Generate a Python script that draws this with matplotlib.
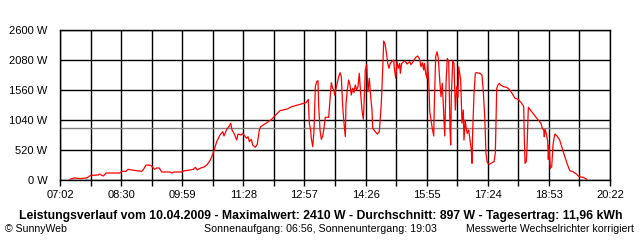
import matplotlib
matplotlib.use("Agg")
import matplotlib.pyplot as plt
from matplotlib.ticker import FixedLocator, FuncFormatter

# Zeit in Minuten seit Mitternacht, Leistung in W
t_min = [436.5, 442.4, 451.1, 460.8, 466.7, 477.7, 479.2, 485.0, 488.9, 509.3,
         511.7, 518.0, 520.9, 529.6, 540.8, 543.2, 547.1, 553.9, 559.7, 562.7,
         566.4, 569.9, 582.0, 584.9, 587.8, 599.0, 601.3, 611.1, 615.9, 618.8,
         621.7, 624.6, 628.1, 631.5, 635.4, 640.2, 642.7, 646.0, 649.9, 654.7,
         658.7, 660.5, 664.5, 668.3, 670.3, 672.2, 675.1, 677.0, 679.0, 680.9,
         685.7, 687.7, 690.6, 693.6, 695.5, 697.4, 700.3, 702.3, 706.1, 709.0,
         711.9, 713.9, 722.7, 729.9, 738.1, 742.0, 752.6, 759.0, 771.1, 779.8,
         783.2, 784.6, 786.6, 787.5, 789.6, 791.5, 793.4, 795.4, 797.3, 798.3,
         800.2, 802.1, 804.1, 806.0, 807.9, 812.8, 814.7, 816.6, 818.6, 820.5,
         821.5, 823.5, 827.4, 829.3, 831.2, 833.2, 835.1, 837.0, 838.0, 839.9,
         841.9, 843.8, 845.7, 847.7, 849.6, 851.5, 853.5, 855.4, 857.3, 859.3,
         861.2, 863.2, 865.2, 866.0, 868.1, 870.0, 871.9, 873.9, 875.8, 876.8,
         880.6, 883.5, 886.4, 888.9, 889.9, 891.8, 892.8, 894.7, 896.6, 898.7,
         900.5, 902.4, 904.5, 907.4, 908.2, 910.3, 912.2, 914.1, 916.1, 917.0,
         919.0, 923.8, 926.7, 930.7, 932.5, 936.5, 939.4, 942.3, 945.2, 947.1,
         949.0, 951.0, 951.9, 953.9, 955.8, 956.8, 958.7, 959.8, 961.6, 963.5,
         965.6, 966.4, 968.4, 970.4, 972.3, 974.3, 976.2, 978.1, 980.1, 981.6,
         983.5, 985.3, 987.4, 989.3, 990.3, 991.2, 993.2, 995.1, 997.0, 999.1,
         1000.9, 1001.9, 1003.8, 1004.8, 1006.7, 1008.6, 1009.6, 1011.5, 1012.5, 1014.4,
         1016.5, 1018.4, 1020.3, 1021.3, 1022.3, 1024.2, 1026.1, 1027.1, 1032.9, 1035.8,
         1037.7, 1039.8, 1041.6, 1043.5, 1046.5, 1050.4, 1053.3, 1055.2, 1056.2, 1057.2,
         1059.1, 1061.0, 1063.0, 1066.8, 1071.7, 1075.5, 1078.0, 1080.9, 1083.8, 1088.6,
         1093.6, 1096.5, 1097.3, 1098.4, 1100.2, 1101.3, 1103.2, 1108.1, 1112.9, 1117.7,
         1121.6, 1123.5, 1125.6, 1126.4, 1127.5, 1129.3, 1131.4, 1132.3, 1133.3, 1135.2,
         1137.2, 1139.1, 1141.0, 1142.0, 1144.9, 1148.8, 1151.7, 1154.7, 1159.5, 1163.4,
         1168.2, 1173.1, 1177.0, 1183.2, 1188.2]
leistung = [12, 35, 25, 35, 81, 87, 104, 69, 121, 121,
            150, 150, 185, 168, 150, 179, 260, 254, 185, 208,
            208, 139, 139, 121, 139, 139, 156, 173, 185, 220,
            173, 196, 214, 225, 260, 335, 404, 508, 664, 780,
            837, 763, 878, 936, 983, 867, 809, 751, 693, 797,
            780, 809, 763, 723, 750, 664, 705, 607, 567, 624,
            867, 924, 993, 1052, 1156, 1202, 1231, 1271, 1312, 1340,
            1398, 983, 867, 723, 578, 867, 1618, 1705, 1722, 1271,
            867, 705, 763, 896, 1087, 1087, 1387, 1687, 1589, 1560,
            1473, 1589, 1791, 1860, 1791, 1271, 983, 751, 1329, 1560,
            1733, 1647, 1473, 1589, 1514, 1647, 1560, 1618, 1849, 1502,
            1213, 1052, 1589, 1907, 1999, 1531, 1763, 1444, 1213, 896,
            837, 797, 837, 1242, 1473, 2051, 2410, 2357, 2224, 2022,
            1936, 2022, 2051, 2080, 1953, 1763, 2051, 1936, 2022, 1849,
            2022, 2068, 2010, 2051, 1999, 2068, 2126, 2149, 2091, 1964,
            2033, 1907, 2022, 1849, 1763, 2051, 1589, 1184, 1040, 896,
            763, 1271, 2137, 2224, 2109, 1733, 1444, 1676, 1156, 763,
            1676, 2109, 2051, 867, 607, 1444, 2068, 2022, 1213, 1618,
            1444, 1964, 1820, 1733, 983, 1213, 693, 1040, 924, 809,
            867, 693, 520, 289, 867, 1502, 1849, 1860, 1849, 1820,
            1531, 1098, 462, 300, 272, 300, 318, 462, 1069, 1589,
            1647, 1676, 1647, 1618, 1606, 1572, 1531, 1473, 1416, 1398,
            1329, 1271, 751, 289, 318, 549, 1260, 1184, 1109, 1040,
            983, 896, 867, 751, 878, 809, 664, 358, 607, 202,
            231, 607, 751, 797, 763, 693, 578, 462, 289, 162,
            144, 104, 58, 46, 12]

durchschnitt = 897
x_start, x_end = 422, 1222          # 07:02 .. 20:22
x_labels = ["07:02", "08:30", "09:59", "11:28", "12:57",
            "14:26", "15:55", "17:24", "18:53", "20:22"]
y_ticks = [0, 520, 1040, 1560, 2080, 2600]

titel = ("Leistungsverlauf vom 10.04.2009 - Maximalwert: 2410 W - "
         "Durchschnitt: 897 W - Tagesertrag: 11,96 kWh")

plt.rcParams['font.family'] = ['Liberation Sans', 'DejaVu Sans']

fig = plt.figure(figsize=(6.4, 2.4), dpi=100)
ax = fig.add_axes([60 / 640, 60 / 240, 550 / 640, 150 / 240])

step = (x_end - x_start) / 9
major = [x_start + i * step for i in range(10)]
minor = [x_start + (i + 0.5) * step for i in range(9)]

ax.set_xlim(x_start, x_end)
ax.set_ylim(0, 2600)
ax.xaxis.set_major_locator(FixedLocator(major))
ax.xaxis.set_minor_locator(FixedLocator(minor))
ax.set_xticklabels(x_labels)
ax.set_yticks(y_ticks)
ax.yaxis.set_major_formatter(FuncFormatter(lambda v, p: "%d W" % v))

ax.grid(True, which='both', axis='x', color='black', lw=1)
ax.grid(True, which='major', axis='y', color='black', lw=1)
ax.tick_params(axis='x', which='both', length=4, width=1, color='black',
               labelsize=8, pad=3)
ax.tick_params(axis='y', length=0, labelsize=8, pad=9)
for s in ax.spines.values():
    s.set_linewidth(1)
    s.set_color('black')

ax.axhline(durchschnitt, color='#808080', lw=1, zorder=2)
ax.plot(t_min, leistung, color='#ff0000', lw=0.9, zorder=3)

fig.text(321 / 640, 1 - 215.5 / 240, titel, ha='center', va='center',
         fontsize=8.8, fontweight='bold')
fig.text(5 / 640, 1 - 229 / 240, "\u00a9 SunnyWeb", ha='left', va='center', fontsize=7.6)
fig.text(204 / 640, 1 - 229 / 240, "Sonnenaufgang: 06:56, Sonnenuntergang: 19:03",
         ha='left', va='center', fontsize=7.7)
fig.text(633.5 / 640, 1 - 229 / 240, "Messwerte Wechselrichter korrigiert",
         ha='right', va='center', fontsize=7.6)

fig.savefig("out.png", dpi=100, facecolor='white')
